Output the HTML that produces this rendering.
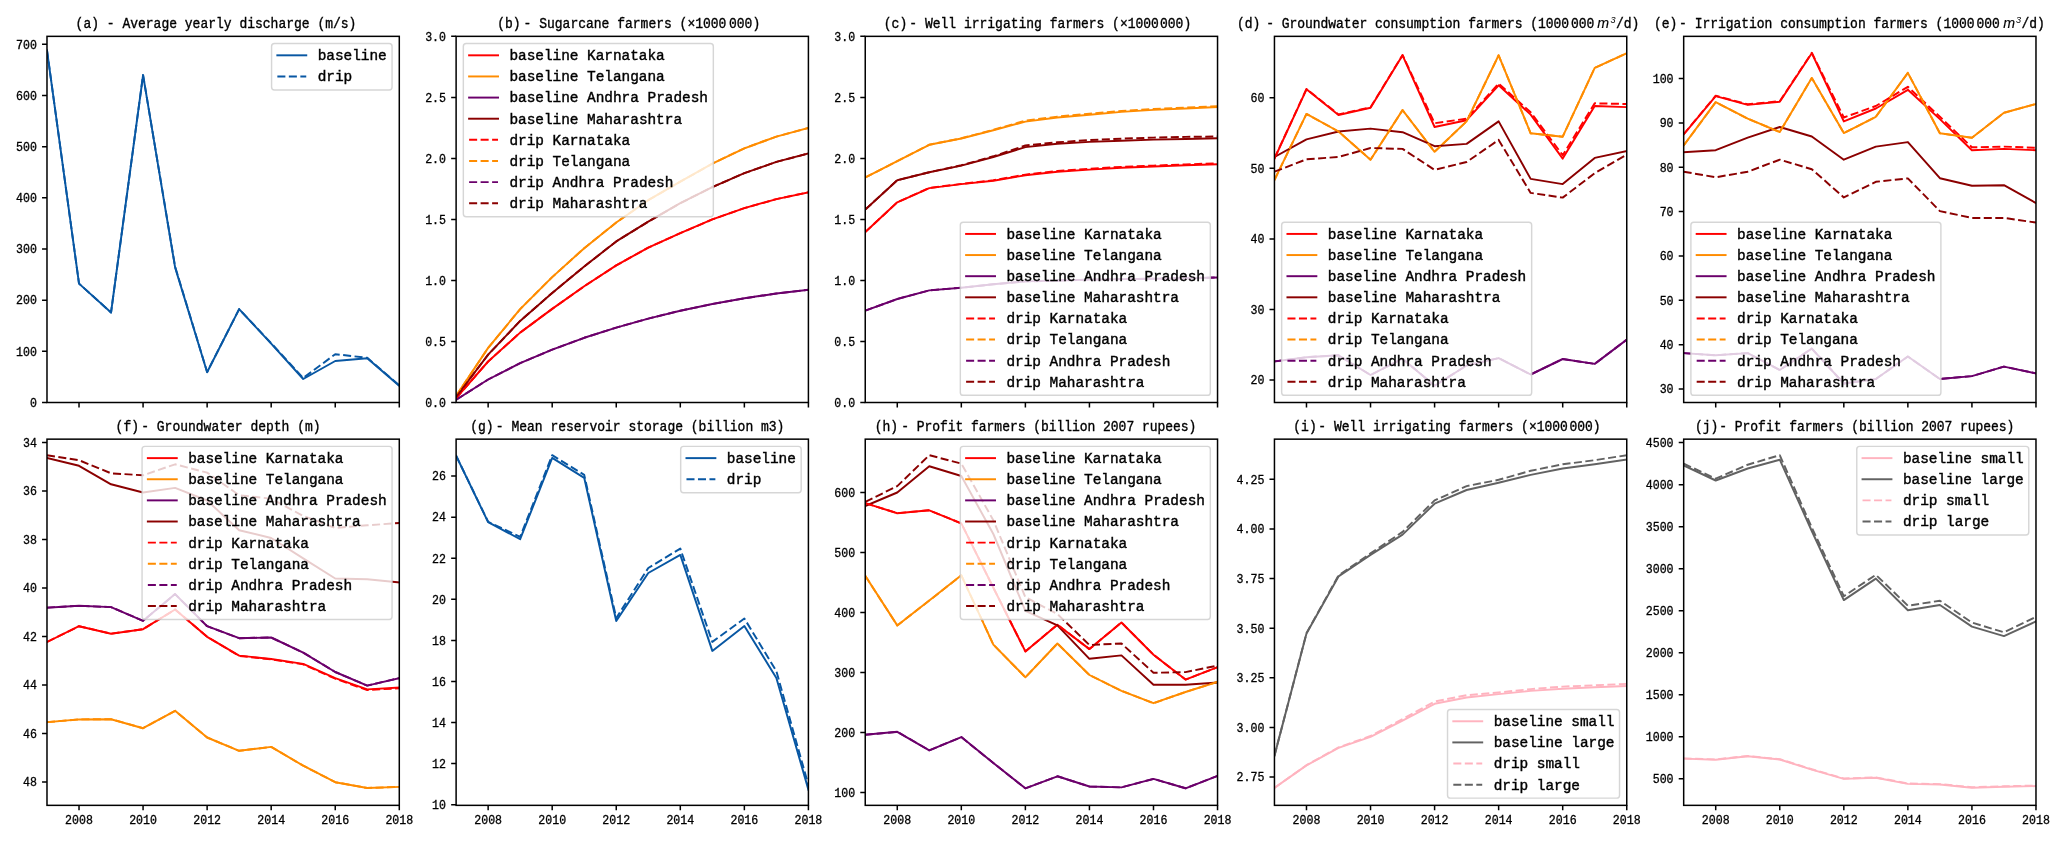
<!DOCTYPE html>
<html><head><meta charset="utf-8"><title>figure</title>
<style>html,body{margin:0;padding:0;background:#fff;}body{width:2067px;height:842px;overflow:hidden;}svg{display:block;will-change:transform;}text{white-space:pre;}</style></head>
<body>
<svg width="2067" height="842" viewBox="0 0 2067 842">
<rect width="2067" height="842" fill="#fff"/>
<defs>
<clipPath id="ca"><rect x="46.99" y="36.35" width="352.3" height="366.15"/></clipPath>
<clipPath id="cb"><rect x="456.11" y="36.35" width="352.3" height="366.15"/></clipPath>
<clipPath id="cc"><rect x="865.24" y="36.35" width="352.3" height="366.15"/></clipPath>
<clipPath id="cd"><rect x="1274.45" y="36.35" width="352.3" height="366.15"/></clipPath>
<clipPath id="ce"><rect x="1683.68" y="36.35" width="352.3" height="366.15"/></clipPath>
<clipPath id="cf"><rect x="46.99" y="439.15" width="352.3" height="366.2"/></clipPath>
<clipPath id="cg"><rect x="456.11" y="439.15" width="352.3" height="366.2"/></clipPath>
<clipPath id="ch"><rect x="865.24" y="439.15" width="352.3" height="366.2"/></clipPath>
<clipPath id="ci"><rect x="1274.45" y="439.15" width="352.3" height="366.2"/></clipPath>
<clipPath id="cj"><rect x="1683.68" y="439.15" width="352.3" height="366.2"/></clipPath>
</defs>
<g id="pa">
<g clip-path="url(#ca)" fill="none" stroke-width="1.95" stroke-linejoin="round">
<polyline points="46.99,50.3 79.02,283.6 111.04,312.5 143.07,75.1 175.1,267.4 207.13,372.3 239.15,309.1 271.18,343.6 303.21,379 335.24,361 367.26,358.3 399.29,385.8" stroke="#0857a3" stroke-linecap="square"/>
<polyline points="46.99,50.3 79.02,283.6 111.04,312.5 143.07,75.1 175.1,266.6 207.13,372 239.15,309.1 271.18,343.2 303.21,378 335.24,354.2 367.26,357.8 399.29,385.4" stroke="#0857a3" stroke-dasharray="8.03 3.47"/>
</g>
<path d="M79.02 402.5v4.95M143.07 402.5v4.95M207.13 402.5v4.95M271.18 402.5v4.95M335.24 402.5v4.95M399.29 402.5v4.95M46.99 402.5h-4.95M46.99 351.34h-4.95M46.99 300.18h-4.95M46.99 249.02h-4.95M46.99 197.86h-4.95M46.99 146.69h-4.95M46.99 95.53h-4.95M46.99 44.37h-4.95" stroke="#000" stroke-width="1.5" fill="none"/>
<rect x="46.99" y="36.35" width="352.3" height="366.15" fill="none" stroke="#000" stroke-width="1.5"/>
<g font-family='"Liberation Mono", monospace' font-size="11.6" fill="#000">
<text transform="translate(36.89,406.8) scale(1,1.05)" text-anchor="end" stroke="#000" stroke-width="0.28">0</text>
<text transform="translate(36.89,355.64) scale(1,1.05)" text-anchor="end" stroke="#000" stroke-width="0.28">100</text>
<text transform="translate(36.89,304.48) scale(1,1.05)" text-anchor="end" stroke="#000" stroke-width="0.28">200</text>
<text transform="translate(36.89,253.32) scale(1,1.05)" text-anchor="end" stroke="#000" stroke-width="0.28">300</text>
<text transform="translate(36.89,202.16) scale(1,1.05)" text-anchor="end" stroke="#000" stroke-width="0.28">400</text>
<text transform="translate(36.89,151) scale(1,1.05)" text-anchor="end" stroke="#000" stroke-width="0.28">500</text>
<text transform="translate(36.89,99.83) scale(1,1.05)" text-anchor="end" stroke="#000" stroke-width="0.28">600</text>
<text transform="translate(36.89,48.67) scale(1,1.05)" text-anchor="end" stroke="#000" stroke-width="0.28">700</text>
</g>
<g font-family='"Liberation Mono", monospace' font-size="13.0" fill="#000">
<text transform="translate(75.6,28) scale(1,1.07)" textLength="280.8" lengthAdjust="spacing" stroke="#000" stroke-width="0.33">(a) - Average yearly discharge (m/s)</text>
</g>
<rect x="271.57" y="43.57" width="120.5" height="46.4" rx="2.9" fill="#fff" fill-opacity="0.8" stroke="#ccc" stroke-opacity="0.8" stroke-width="1.44"/>
<g font-family='"Liberation Mono", monospace' font-size="14.44" fill="#000">
<path d="M277.35 55.32H306.25" stroke="#0857a3" stroke-width="1.95" stroke-linecap="square" fill="none"/>
<text transform="translate(317.7,60.22) scale(1,1.04)" textLength="69.04" lengthAdjust="spacing" stroke="#000" stroke-width="0.4">baseline</text>
<path d="M277.35 76.45H306.25" stroke="#0857a3" stroke-width="1.95" stroke-dasharray="8.03 3.47" fill="none"/>
<text transform="translate(317.7,81.35) scale(1,1.04)" textLength="34.52" lengthAdjust="spacing" stroke="#000" stroke-width="0.4">drip</text>
</g>
</g>
<g id="pb">
<g clip-path="url(#cb)" fill="none" stroke-width="1.95" stroke-linejoin="round">
<polyline points="456.11,398.2 488.14,361.5 520.16,332.6 552.19,308.9 584.22,286.3 616.25,265.4 648.27,247.6 680.3,233.2 712.33,219.4 744.36,208.1 776.38,199.1 808.41,192.3" stroke="#ff0000" stroke-linecap="square"/>
<polyline points="456.11,395.8 488.14,347.9 520.16,309.1 552.19,277.1 584.22,248.2 616.25,222.5 648.27,200.2 680.3,181.7 712.33,163.7 744.36,148.3 776.38,136.6 808.41,128" stroke="#ff8c00" stroke-linecap="square"/>
<polyline points="456.11,399.8 488.14,379.5 520.16,363.1 552.19,349.7 584.22,337.8 616.25,327.6 648.27,318.6 680.3,310.7 712.33,304 744.36,298.3 776.38,293.5 808.41,289.8" stroke="#6b006b" stroke-linecap="square"/>
<polyline points="456.11,396.9 488.14,354.7 520.16,320.9 552.19,292.9 584.22,266.5 616.25,241.4 648.27,221.7 680.3,203.2 712.33,187.1 744.36,173.2 776.38,161.9 808.41,153.5" stroke="#8b0000" stroke-linecap="square"/>
<polyline points="456.11,398.2 488.14,361.5 520.16,332.6 552.19,308.9 584.22,286.3 616.25,265.4 648.27,247.6 680.3,233.2 712.33,219.4 744.36,208.1 776.38,199.1 808.41,192.3" stroke="#ff0000" stroke-dasharray="8.03 3.47"/>
<polyline points="456.11,395.8 488.14,347.9 520.16,309.1 552.19,277.1 584.22,248.2 616.25,222.5 648.27,200.2 680.3,181.7 712.33,163.7 744.36,148.3 776.38,136.6 808.41,128" stroke="#ff8c00" stroke-dasharray="8.03 3.47"/>
<polyline points="456.11,399.8 488.14,379.5 520.16,363.1 552.19,349.7 584.22,337.8 616.25,327.6 648.27,318.6 680.3,310.7 712.33,304 744.36,298.3 776.38,293.5 808.41,289.8" stroke="#6b006b" stroke-dasharray="8.03 3.47"/>
<polyline points="456.11,396.9 488.14,354.7 520.16,320.9 552.19,292.9 584.22,266.5 616.25,241.4 648.27,221.7 680.3,203.2 712.33,187.1 744.36,173.2 776.38,161.9 808.41,153.5" stroke="#8b0000" stroke-dasharray="8.03 3.47"/>
</g>
<path d="M488.14 402.5v4.95M552.19 402.5v4.95M616.25 402.5v4.95M680.3 402.5v4.95M744.36 402.5v4.95M808.41 402.5v4.95M456.11 402.5h-4.95M456.11 341.48h-4.95M456.11 280.45h-4.95M456.11 219.43h-4.95M456.11 158.4h-4.95M456.11 97.38h-4.95M456.11 36.35h-4.95" stroke="#000" stroke-width="1.5" fill="none"/>
<rect x="456.11" y="36.35" width="352.3" height="366.15" fill="none" stroke="#000" stroke-width="1.5"/>
<g font-family='"Liberation Mono", monospace' font-size="11.6" fill="#000">
<text transform="translate(446.01,406.8) scale(1,1.05)" text-anchor="end" stroke="#000" stroke-width="0.28">0.0</text>
<text transform="translate(446.01,345.78) scale(1,1.05)" text-anchor="end" stroke="#000" stroke-width="0.28">0.5</text>
<text transform="translate(446.01,284.75) scale(1,1.05)" text-anchor="end" stroke="#000" stroke-width="0.28">1.0</text>
<text transform="translate(446.01,223.73) scale(1,1.05)" text-anchor="end" stroke="#000" stroke-width="0.28">1.5</text>
<text transform="translate(446.01,162.7) scale(1,1.05)" text-anchor="end" stroke="#000" stroke-width="0.28">2.0</text>
<text transform="translate(446.01,101.67) scale(1,1.05)" text-anchor="end" stroke="#000" stroke-width="0.28">2.5</text>
<text transform="translate(446.01,40.65) scale(1,1.05)" text-anchor="end" stroke="#000" stroke-width="0.28">3.0</text>
</g>
<g font-family='"Liberation Mono", monospace' font-size="13.0" fill="#000">
<text transform="translate(497.2,28) scale(1,1.07)" textLength="23.4" lengthAdjust="spacing" stroke="#000" stroke-width="0.33">(b)</text>
<text transform="translate(523.6,28) scale(1,1.07)" textLength="202.8" lengthAdjust="spacing" stroke="#000" stroke-width="0.33">- Sugarcane farmers (×1000</text>
<text transform="translate(729,28) scale(1,1.07)" textLength="31.2" lengthAdjust="spacing" stroke="#000" stroke-width="0.33">000)</text>
</g>
<rect x="463.33" y="43.57" width="250" height="173.1" rx="2.9" fill="#fff" fill-opacity="0.8" stroke="#ccc" stroke-opacity="0.8" stroke-width="1.44"/>
<g font-family='"Liberation Mono", monospace' font-size="14.44" fill="#000">
<path d="M469.11 55.32H498.01" stroke="#ff0000" stroke-width="1.95" stroke-linecap="square" fill="none"/>
<text transform="translate(509.46,60.22) scale(1,1.04)" textLength="155.34" lengthAdjust="spacing" stroke="#000" stroke-width="0.4">baseline Karnataka</text>
<path d="M469.11 76.45H498.01" stroke="#ff8c00" stroke-width="1.95" stroke-linecap="square" fill="none"/>
<text transform="translate(509.46,81.35) scale(1,1.04)" textLength="155.34" lengthAdjust="spacing" stroke="#000" stroke-width="0.4">baseline Telangana</text>
<path d="M469.11 97.58H498.01" stroke="#6b006b" stroke-width="1.95" stroke-linecap="square" fill="none"/>
<text transform="translate(509.46,102.48) scale(1,1.04)" textLength="198.49" lengthAdjust="spacing" stroke="#000" stroke-width="0.4">baseline Andhra Pradesh</text>
<path d="M469.11 118.71H498.01" stroke="#8b0000" stroke-width="1.95" stroke-linecap="square" fill="none"/>
<text transform="translate(509.46,123.61) scale(1,1.04)" textLength="172.6" lengthAdjust="spacing" stroke="#000" stroke-width="0.4">baseline Maharashtra</text>
<path d="M469.11 139.84H498.01" stroke="#ff0000" stroke-width="1.95" stroke-dasharray="8.03 3.47" fill="none"/>
<text transform="translate(509.46,144.74) scale(1,1.04)" textLength="120.82" lengthAdjust="spacing" stroke="#000" stroke-width="0.4">drip Karnataka</text>
<path d="M469.11 160.97H498.01" stroke="#ff8c00" stroke-width="1.95" stroke-dasharray="8.03 3.47" fill="none"/>
<text transform="translate(509.46,165.87) scale(1,1.04)" textLength="120.82" lengthAdjust="spacing" stroke="#000" stroke-width="0.4">drip Telangana</text>
<path d="M469.11 182.1H498.01" stroke="#6b006b" stroke-width="1.95" stroke-dasharray="8.03 3.47" fill="none"/>
<text transform="translate(509.46,187) scale(1,1.04)" textLength="163.97" lengthAdjust="spacing" stroke="#000" stroke-width="0.4">drip Andhra Pradesh</text>
<path d="M469.11 203.23H498.01" stroke="#8b0000" stroke-width="1.95" stroke-dasharray="8.03 3.47" fill="none"/>
<text transform="translate(509.46,208.13) scale(1,1.04)" textLength="138.08" lengthAdjust="spacing" stroke="#000" stroke-width="0.4">drip Maharashtra</text>
</g>
</g>
<g id="pc">
<g clip-path="url(#cc)" fill="none" stroke-width="1.95" stroke-linejoin="round">
<polyline points="865.24,232.1 897.27,202.3 929.29,188.1 961.32,184.1 993.35,180.7 1025.38,175.3 1057.4,171.7 1089.43,169.6 1121.46,167.8 1153.49,166.5 1185.51,165.3 1217.54,164.2" stroke="#ff0000" stroke-linecap="square"/>
<polyline points="865.24,177.5 897.27,161.1 929.29,144.8 961.32,138.5 993.35,130.2 1025.38,121.6 1057.4,117.5 1089.43,114.8 1121.46,111.9 1153.49,109.9 1185.51,108.5 1217.54,107.1" stroke="#ff8c00" stroke-linecap="square"/>
<polyline points="865.24,310.7 897.27,299 929.29,290.4 961.32,287.7 993.35,284.3 1025.38,281.4 1057.4,280.5 1089.43,279.6 1121.46,279.1 1153.49,278.7 1185.51,278.2 1217.54,277.5" stroke="#6b006b" stroke-linecap="square"/>
<polyline points="865.24,209.6 897.27,180.2 929.29,172.3 961.32,165.6 993.35,157 1025.38,147.1 1057.4,143.7 1089.43,141.9 1121.46,140.8 1153.49,139.6 1185.51,139 1217.54,138.3" stroke="#8b0000" stroke-linecap="square"/>
<polyline points="865.24,232.1 897.27,202.3 929.29,188 961.32,183.9 993.35,180.3 1025.38,174.6 1057.4,171 1089.43,168.7 1121.46,166.9 1153.49,165.6 1185.51,164.4 1217.54,163.3" stroke="#ff0000" stroke-dasharray="8.03 3.47"/>
<polyline points="865.24,177.5 897.27,161.1 929.29,144.7 961.32,138.3 993.35,129.8 1025.38,120.7 1057.4,116.6 1089.43,113.7 1121.46,111 1153.49,108.9 1185.51,107.6 1217.54,106.2" stroke="#ff8c00" stroke-dasharray="8.03 3.47"/>
<polyline points="865.24,310.7 897.27,299 929.29,290.4 961.32,287.7 993.35,284.3 1025.38,281.4 1057.4,280.5 1089.43,279.6 1121.46,279.1 1153.49,278.7 1185.51,278.2 1217.54,277.5" stroke="#6b006b" stroke-dasharray="8.03 3.47"/>
<polyline points="865.24,209.6 897.27,180.2 929.29,172.2 961.32,165.3 993.35,156.3 1025.38,145.5 1057.4,142.3 1089.43,140.1 1121.46,138.7 1153.49,137.6 1185.51,136.9 1217.54,136.5" stroke="#8b0000" stroke-dasharray="8.03 3.47"/>
</g>
<path d="M897.27 402.5v4.95M961.32 402.5v4.95M1025.38 402.5v4.95M1089.43 402.5v4.95M1153.49 402.5v4.95M1217.54 402.5v4.95M865.24 402.5h-4.95M865.24 341.48h-4.95M865.24 280.45h-4.95M865.24 219.43h-4.95M865.24 158.4h-4.95M865.24 97.38h-4.95M865.24 36.35h-4.95" stroke="#000" stroke-width="1.5" fill="none"/>
<rect x="865.24" y="36.35" width="352.3" height="366.15" fill="none" stroke="#000" stroke-width="1.5"/>
<g font-family='"Liberation Mono", monospace' font-size="11.6" fill="#000">
<text transform="translate(855.14,406.8) scale(1,1.05)" text-anchor="end" stroke="#000" stroke-width="0.28">0.0</text>
<text transform="translate(855.14,345.78) scale(1,1.05)" text-anchor="end" stroke="#000" stroke-width="0.28">0.5</text>
<text transform="translate(855.14,284.75) scale(1,1.05)" text-anchor="end" stroke="#000" stroke-width="0.28">1.0</text>
<text transform="translate(855.14,223.73) scale(1,1.05)" text-anchor="end" stroke="#000" stroke-width="0.28">1.5</text>
<text transform="translate(855.14,162.7) scale(1,1.05)" text-anchor="end" stroke="#000" stroke-width="0.28">2.0</text>
<text transform="translate(855.14,101.67) scale(1,1.05)" text-anchor="end" stroke="#000" stroke-width="0.28">2.5</text>
<text transform="translate(855.14,40.65) scale(1,1.05)" text-anchor="end" stroke="#000" stroke-width="0.28">3.0</text>
</g>
<g font-family='"Liberation Mono", monospace' font-size="13.0" fill="#000">
<text transform="translate(883.8,28) scale(1,1.07)" textLength="23.4" lengthAdjust="spacing" stroke="#000" stroke-width="0.33">(c)</text>
<text transform="translate(909.3,28) scale(1,1.07)" textLength="249.6" lengthAdjust="spacing" stroke="#000" stroke-width="0.33">- Well irrigating farmers (×1000</text>
<text transform="translate(1160,28) scale(1,1.07)" textLength="31.2" lengthAdjust="spacing" stroke="#000" stroke-width="0.33">000)</text>
</g>
<rect x="960.32" y="222.18" width="250" height="173.1" rx="2.9" fill="#fff" fill-opacity="0.8" stroke="#ccc" stroke-opacity="0.8" stroke-width="1.44"/>
<g font-family='"Liberation Mono", monospace' font-size="14.44" fill="#000">
<path d="M966.1 233.93H995" stroke="#ff0000" stroke-width="1.95" stroke-linecap="square" fill="none"/>
<text transform="translate(1006.45,238.83) scale(1,1.04)" textLength="155.34" lengthAdjust="spacing" stroke="#000" stroke-width="0.4">baseline Karnataka</text>
<path d="M966.1 255.06H995" stroke="#ff8c00" stroke-width="1.95" stroke-linecap="square" fill="none"/>
<text transform="translate(1006.45,259.96) scale(1,1.04)" textLength="155.34" lengthAdjust="spacing" stroke="#000" stroke-width="0.4">baseline Telangana</text>
<path d="M966.1 276.19H995" stroke="#6b006b" stroke-width="1.95" stroke-linecap="square" fill="none"/>
<text transform="translate(1006.45,281.09) scale(1,1.04)" textLength="198.49" lengthAdjust="spacing" stroke="#000" stroke-width="0.4">baseline Andhra Pradesh</text>
<path d="M966.1 297.32H995" stroke="#8b0000" stroke-width="1.95" stroke-linecap="square" fill="none"/>
<text transform="translate(1006.45,302.22) scale(1,1.04)" textLength="172.6" lengthAdjust="spacing" stroke="#000" stroke-width="0.4">baseline Maharashtra</text>
<path d="M966.1 318.45H995" stroke="#ff0000" stroke-width="1.95" stroke-dasharray="8.03 3.47" fill="none"/>
<text transform="translate(1006.45,323.35) scale(1,1.04)" textLength="120.82" lengthAdjust="spacing" stroke="#000" stroke-width="0.4">drip Karnataka</text>
<path d="M966.1 339.58H995" stroke="#ff8c00" stroke-width="1.95" stroke-dasharray="8.03 3.47" fill="none"/>
<text transform="translate(1006.45,344.48) scale(1,1.04)" textLength="120.82" lengthAdjust="spacing" stroke="#000" stroke-width="0.4">drip Telangana</text>
<path d="M966.1 360.71H995" stroke="#6b006b" stroke-width="1.95" stroke-dasharray="8.03 3.47" fill="none"/>
<text transform="translate(1006.45,365.61) scale(1,1.04)" textLength="163.97" lengthAdjust="spacing" stroke="#000" stroke-width="0.4">drip Andhra Pradesh</text>
<path d="M966.1 381.84H995" stroke="#8b0000" stroke-width="1.95" stroke-dasharray="8.03 3.47" fill="none"/>
<text transform="translate(1006.45,386.74) scale(1,1.04)" textLength="138.08" lengthAdjust="spacing" stroke="#000" stroke-width="0.4">drip Maharashtra</text>
</g>
</g>
<g id="pd">
<g clip-path="url(#cd)" fill="none" stroke-width="1.95" stroke-linejoin="round">
<polyline points="1274.45,158.6 1306.48,89.3 1338.5,115 1370.53,107.8 1402.56,55.3 1434.59,127 1466.61,120.2 1498.64,85.3 1530.67,114.6 1562.7,158.6 1594.72,106 1626.75,107.1" stroke="#ff0000" stroke-linecap="square"/>
<polyline points="1274.45,180 1306.48,113.9 1338.5,131.5 1370.53,159.7 1402.56,110.1 1434.59,151.8 1466.61,121.4 1498.64,55.3 1530.67,133.3 1562.7,136.7 1594.72,67.9 1626.75,53.2" stroke="#ff8c00" stroke-linecap="square"/>
<polyline points="1274.45,361.4 1306.48,357.2 1338.5,355.3 1370.53,375 1402.56,358.7 1434.59,385.8 1466.61,365.5 1498.64,358.1 1530.67,374.5 1562.7,359 1594.72,363.9 1626.75,339.6" stroke="#6b006b" stroke-linecap="square"/>
<polyline points="1274.45,157 1306.48,139.4 1338.5,131.5 1370.53,128.6 1402.56,132.2 1434.59,146.2 1466.61,143.9 1498.64,121.4 1530.67,178.9 1562.7,184.1 1594.72,157.9 1626.75,151.1" stroke="#8b0000" stroke-linecap="square"/>
<polyline points="1274.45,158.4 1306.48,89 1338.5,114.4 1370.53,107.3 1402.56,55 1434.59,123.2 1466.61,118.7 1498.64,83.5 1530.67,112.3 1562.7,155.2 1594.72,103.3 1626.75,104" stroke="#ff0000" stroke-dasharray="8.03 3.47"/>
<polyline points="1274.45,180 1306.48,113.9 1338.5,131.5 1370.53,159.7 1402.56,110.1 1434.59,151.8 1466.61,121.4 1498.64,55.3 1530.67,133.3 1562.7,136.7 1594.72,67.9 1626.75,53.2" stroke="#ff8c00" stroke-dasharray="8.03 3.47"/>
<polyline points="1274.45,361.4 1306.48,357.2 1338.5,355.3 1370.53,375 1402.56,358.7 1434.59,385.8 1466.61,365.5 1498.64,358.1 1530.67,374.5 1562.7,359 1594.72,363.9 1626.75,339.6" stroke="#6b006b" stroke-dasharray="8.03 3.47"/>
<polyline points="1274.45,171.7 1306.48,159.3 1338.5,157 1370.53,148 1402.56,148.9 1434.59,169.9 1466.61,162 1498.64,139.9 1530.67,192.9 1562.7,197.6 1594.72,173.2 1626.75,154.7" stroke="#8b0000" stroke-dasharray="8.03 3.47"/>
</g>
<path d="M1306.48 402.5v4.95M1370.53 402.5v4.95M1434.59 402.5v4.95M1498.64 402.5v4.95M1562.7 402.5v4.95M1626.75 402.5v4.95M1274.45 380.1h-4.95M1274.45 309.5h-4.95M1274.45 238.9h-4.95M1274.45 168.3h-4.95M1274.45 97.7h-4.95" stroke="#000" stroke-width="1.5" fill="none"/>
<rect x="1274.45" y="36.35" width="352.3" height="366.15" fill="none" stroke="#000" stroke-width="1.5"/>
<g font-family='"Liberation Mono", monospace' font-size="11.6" fill="#000">
<text transform="translate(1264.35,384.4) scale(1,1.05)" text-anchor="end" stroke="#000" stroke-width="0.28">20</text>
<text transform="translate(1264.35,313.8) scale(1,1.05)" text-anchor="end" stroke="#000" stroke-width="0.28">30</text>
<text transform="translate(1264.35,243.2) scale(1,1.05)" text-anchor="end" stroke="#000" stroke-width="0.28">40</text>
<text transform="translate(1264.35,172.6) scale(1,1.05)" text-anchor="end" stroke="#000" stroke-width="0.28">50</text>
<text transform="translate(1264.35,102) scale(1,1.05)" text-anchor="end" stroke="#000" stroke-width="0.28">60</text>
</g>
<g font-family='"Liberation Mono", monospace' font-size="13.0" fill="#000">
<text transform="translate(1237,28) scale(1,1.07)" textLength="23.4" lengthAdjust="spacing" stroke="#000" stroke-width="0.33">(d)</text>
<text transform="translate(1266.2,28) scale(1,1.07)" textLength="302.95" lengthAdjust="spacing" stroke="#000" stroke-width="0.33">- Groundwater consumption farmers (1000</text>
<text transform="translate(1570.9,28) scale(1,1.07)" textLength="23.4" lengthAdjust="spacing" stroke="#000" stroke-width="0.33">000</text>
<text x="1597.3" y="28" font-family='"Liberation Sans", sans-serif' font-style="italic" font-size="14.2" stroke="#000" stroke-width="0.15">m</text>
<text x="1610.5" y="23.2" font-family='"Liberation Sans", sans-serif' font-style="italic" font-size="9.1">3</text>
<text transform="translate(1616,28) scale(1,1.07)" textLength="23.25" lengthAdjust="spacing" stroke="#000" stroke-width="0.33">/d)</text>
</g>
<rect x="1281.67" y="222.18" width="250" height="173.1" rx="2.9" fill="#fff" fill-opacity="0.8" stroke="#ccc" stroke-opacity="0.8" stroke-width="1.44"/>
<g font-family='"Liberation Mono", monospace' font-size="14.44" fill="#000">
<path d="M1287.45 233.93H1316.35" stroke="#ff0000" stroke-width="1.95" stroke-linecap="square" fill="none"/>
<text transform="translate(1327.8,238.83) scale(1,1.04)" textLength="155.34" lengthAdjust="spacing" stroke="#000" stroke-width="0.4">baseline Karnataka</text>
<path d="M1287.45 255.06H1316.35" stroke="#ff8c00" stroke-width="1.95" stroke-linecap="square" fill="none"/>
<text transform="translate(1327.8,259.96) scale(1,1.04)" textLength="155.34" lengthAdjust="spacing" stroke="#000" stroke-width="0.4">baseline Telangana</text>
<path d="M1287.45 276.19H1316.35" stroke="#6b006b" stroke-width="1.95" stroke-linecap="square" fill="none"/>
<text transform="translate(1327.8,281.09) scale(1,1.04)" textLength="198.49" lengthAdjust="spacing" stroke="#000" stroke-width="0.4">baseline Andhra Pradesh</text>
<path d="M1287.45 297.32H1316.35" stroke="#8b0000" stroke-width="1.95" stroke-linecap="square" fill="none"/>
<text transform="translate(1327.8,302.22) scale(1,1.04)" textLength="172.6" lengthAdjust="spacing" stroke="#000" stroke-width="0.4">baseline Maharashtra</text>
<path d="M1287.45 318.45H1316.35" stroke="#ff0000" stroke-width="1.95" stroke-dasharray="8.03 3.47" fill="none"/>
<text transform="translate(1327.8,323.35) scale(1,1.04)" textLength="120.82" lengthAdjust="spacing" stroke="#000" stroke-width="0.4">drip Karnataka</text>
<path d="M1287.45 339.58H1316.35" stroke="#ff8c00" stroke-width="1.95" stroke-dasharray="8.03 3.47" fill="none"/>
<text transform="translate(1327.8,344.48) scale(1,1.04)" textLength="120.82" lengthAdjust="spacing" stroke="#000" stroke-width="0.4">drip Telangana</text>
<path d="M1287.45 360.71H1316.35" stroke="#6b006b" stroke-width="1.95" stroke-dasharray="8.03 3.47" fill="none"/>
<text transform="translate(1327.8,365.61) scale(1,1.04)" textLength="163.97" lengthAdjust="spacing" stroke="#000" stroke-width="0.4">drip Andhra Pradesh</text>
<path d="M1287.45 381.84H1316.35" stroke="#8b0000" stroke-width="1.95" stroke-dasharray="8.03 3.47" fill="none"/>
<text transform="translate(1327.8,386.74) scale(1,1.04)" textLength="138.08" lengthAdjust="spacing" stroke="#000" stroke-width="0.4">drip Maharashtra</text>
</g>
</g>
<g id="pe">
<g clip-path="url(#ce)" fill="none" stroke-width="1.95" stroke-linejoin="round">
<polyline points="1683.68,134.4 1715.71,96.1 1747.73,104.9 1779.76,101.7 1811.79,53.2 1843.82,121.4 1875.84,108.5 1907.87,89.8 1939.9,119.1 1971.93,150.2 2003.95,148.9 2035.98,150.2" stroke="#ff0000" stroke-linecap="square"/>
<polyline points="1683.68,145.5 1715.71,102.2 1747.73,118.7 1779.76,132 1811.79,78 1843.82,133.1 1875.84,116.8 1907.87,72.9 1939.9,133.3 1971.93,137.8 2003.95,112.8 2035.98,104" stroke="#ff8c00" stroke-linecap="square"/>
<polyline points="1683.68,353.1 1715.71,355.3 1747.73,353.1 1779.76,370 1811.79,348.6 1843.82,383.5 1875.84,379 1907.87,356.5 1939.9,379 1971.93,376.1 2003.95,366.6 2035.98,373.4" stroke="#6b006b" stroke-linecap="square"/>
<polyline points="1683.68,152.3 1715.71,150.2 1747.73,137.6 1779.76,127 1811.79,136.5 1843.82,159.7 1875.84,146.6 1907.87,142.1 1939.9,178.2 1971.93,185.7 2003.95,185.2 2035.98,203" stroke="#8b0000" stroke-linecap="square"/>
<polyline points="1683.68,134.2 1715.71,95.7 1747.73,104.3 1779.76,101.2 1811.79,52.8 1843.82,117.5 1875.84,106 1907.87,86.8 1939.9,116.8 1971.93,147.3 2003.95,146.6 2035.98,147.8" stroke="#ff0000" stroke-dasharray="8.03 3.47"/>
<polyline points="1683.68,145.5 1715.71,102.2 1747.73,118.7 1779.76,132 1811.79,78 1843.82,133.1 1875.84,116.8 1907.87,72.9 1939.9,133.3 1971.93,137.8 2003.95,112.8 2035.98,104" stroke="#ff8c00" stroke-dasharray="8.03 3.47"/>
<polyline points="1683.68,353.1 1715.71,355.3 1747.73,353.1 1779.76,370 1811.79,348.6 1843.82,383.5 1875.84,379 1907.87,356.5 1939.9,379 1971.93,376.1 2003.95,366.6 2035.98,373.4" stroke="#6b006b" stroke-dasharray="8.03 3.47"/>
<polyline points="1683.68,171.7 1715.71,177.3 1747.73,171.7 1779.76,159.7 1811.79,169.2 1843.82,197.4 1875.84,181.8 1907.87,178.4 1939.9,211.1 1971.93,217.9 2003.95,217.9 2035.98,222.6" stroke="#8b0000" stroke-dasharray="8.03 3.47"/>
</g>
<path d="M1715.71 402.5v4.95M1779.76 402.5v4.95M1843.82 402.5v4.95M1907.87 402.5v4.95M1971.93 402.5v4.95M2035.98 402.5v4.95M1683.68 389h-4.95M1683.68 344.65h-4.95M1683.68 300.3h-4.95M1683.68 255.95h-4.95M1683.68 211.6h-4.95M1683.68 167.25h-4.95M1683.68 122.9h-4.95M1683.68 78.55h-4.95" stroke="#000" stroke-width="1.5" fill="none"/>
<rect x="1683.68" y="36.35" width="352.3" height="366.15" fill="none" stroke="#000" stroke-width="1.5"/>
<g font-family='"Liberation Mono", monospace' font-size="11.6" fill="#000">
<text transform="translate(1673.58,393.3) scale(1,1.05)" text-anchor="end" stroke="#000" stroke-width="0.28">30</text>
<text transform="translate(1673.58,348.95) scale(1,1.05)" text-anchor="end" stroke="#000" stroke-width="0.28">40</text>
<text transform="translate(1673.58,304.6) scale(1,1.05)" text-anchor="end" stroke="#000" stroke-width="0.28">50</text>
<text transform="translate(1673.58,260.25) scale(1,1.05)" text-anchor="end" stroke="#000" stroke-width="0.28">60</text>
<text transform="translate(1673.58,215.9) scale(1,1.05)" text-anchor="end" stroke="#000" stroke-width="0.28">70</text>
<text transform="translate(1673.58,171.55) scale(1,1.05)" text-anchor="end" stroke="#000" stroke-width="0.28">80</text>
<text transform="translate(1673.58,127.2) scale(1,1.05)" text-anchor="end" stroke="#000" stroke-width="0.28">90</text>
<text transform="translate(1673.58,82.85) scale(1,1.05)" text-anchor="end" stroke="#000" stroke-width="0.28">100</text>
</g>
<g font-family='"Liberation Mono", monospace' font-size="13.0" fill="#000">
<text transform="translate(1654,28) scale(1,1.07)" textLength="23.4" lengthAdjust="spacing" stroke="#000" stroke-width="0.33">(e)</text>
<text transform="translate(1679.1,28) scale(1,1.07)" textLength="295.41" lengthAdjust="spacing" stroke="#000" stroke-width="0.33">- Irrigation consumption farmers (1000</text>
<text transform="translate(1976.5,28) scale(1,1.07)" textLength="23.4" lengthAdjust="spacing" stroke="#000" stroke-width="0.33">000</text>
<text x="2003.2" y="28" font-family='"Liberation Sans", sans-serif' font-style="italic" font-size="14.2" stroke="#000" stroke-width="0.15">m</text>
<text x="2016.1" y="23.2" font-family='"Liberation Sans", sans-serif' font-style="italic" font-size="9.1">3</text>
<text transform="translate(2021.6,28) scale(1,1.07)" textLength="23.25" lengthAdjust="spacing" stroke="#000" stroke-width="0.33">/d)</text>
</g>
<rect x="1690.9" y="222.18" width="250" height="173.1" rx="2.9" fill="#fff" fill-opacity="0.8" stroke="#ccc" stroke-opacity="0.8" stroke-width="1.44"/>
<g font-family='"Liberation Mono", monospace' font-size="14.44" fill="#000">
<path d="M1696.68 233.93H1725.58" stroke="#ff0000" stroke-width="1.95" stroke-linecap="square" fill="none"/>
<text transform="translate(1737.03,238.83) scale(1,1.04)" textLength="155.34" lengthAdjust="spacing" stroke="#000" stroke-width="0.4">baseline Karnataka</text>
<path d="M1696.68 255.06H1725.58" stroke="#ff8c00" stroke-width="1.95" stroke-linecap="square" fill="none"/>
<text transform="translate(1737.03,259.96) scale(1,1.04)" textLength="155.34" lengthAdjust="spacing" stroke="#000" stroke-width="0.4">baseline Telangana</text>
<path d="M1696.68 276.19H1725.58" stroke="#6b006b" stroke-width="1.95" stroke-linecap="square" fill="none"/>
<text transform="translate(1737.03,281.09) scale(1,1.04)" textLength="198.49" lengthAdjust="spacing" stroke="#000" stroke-width="0.4">baseline Andhra Pradesh</text>
<path d="M1696.68 297.32H1725.58" stroke="#8b0000" stroke-width="1.95" stroke-linecap="square" fill="none"/>
<text transform="translate(1737.03,302.22) scale(1,1.04)" textLength="172.6" lengthAdjust="spacing" stroke="#000" stroke-width="0.4">baseline Maharashtra</text>
<path d="M1696.68 318.45H1725.58" stroke="#ff0000" stroke-width="1.95" stroke-dasharray="8.03 3.47" fill="none"/>
<text transform="translate(1737.03,323.35) scale(1,1.04)" textLength="120.82" lengthAdjust="spacing" stroke="#000" stroke-width="0.4">drip Karnataka</text>
<path d="M1696.68 339.58H1725.58" stroke="#ff8c00" stroke-width="1.95" stroke-dasharray="8.03 3.47" fill="none"/>
<text transform="translate(1737.03,344.48) scale(1,1.04)" textLength="120.82" lengthAdjust="spacing" stroke="#000" stroke-width="0.4">drip Telangana</text>
<path d="M1696.68 360.71H1725.58" stroke="#6b006b" stroke-width="1.95" stroke-dasharray="8.03 3.47" fill="none"/>
<text transform="translate(1737.03,365.61) scale(1,1.04)" textLength="163.97" lengthAdjust="spacing" stroke="#000" stroke-width="0.4">drip Andhra Pradesh</text>
<path d="M1696.68 381.84H1725.58" stroke="#8b0000" stroke-width="1.95" stroke-dasharray="8.03 3.47" fill="none"/>
<text transform="translate(1737.03,386.74) scale(1,1.04)" textLength="138.08" lengthAdjust="spacing" stroke="#000" stroke-width="0.4">drip Maharashtra</text>
</g>
</g>
<g id="pf">
<g clip-path="url(#cf)" fill="none" stroke-width="1.95" stroke-linejoin="round">
<polyline points="46.99,642 79.02,626.2 111.04,633.7 143.07,629.2 175.1,609.5 207.13,636.8 239.15,655.6 271.18,659 303.21,663.9 335.24,678.1 367.26,689.4 399.29,687.6" stroke="#ff0000" stroke-linecap="square"/>
<polyline points="46.99,722.1 79.02,719.4 111.04,719.2 143.07,728.2 175.1,710.8 207.13,737.5 239.15,750.8 271.18,746.9 303.21,765.7 335.24,782.2 367.26,788 399.29,786.9" stroke="#ff8c00" stroke-linecap="square"/>
<polyline points="46.99,607.6 79.02,605.8 111.04,607.1 143.07,620.8 175.1,594.1 207.13,626.2 239.15,638.2 271.18,637.5 303.21,652.6 335.24,672 367.26,685.6 399.29,678.1" stroke="#6b006b" stroke-linecap="square"/>
<polyline points="46.99,457.9 79.02,465.8 111.04,484.3 143.07,492.5 175.1,487.9 207.13,500.5 239.15,530.2 271.18,538 303.21,558.4 335.24,578.5 367.26,579.3 399.29,582.4" stroke="#8b0000" stroke-linecap="square"/>
<polyline points="46.99,642 79.02,626.2 111.04,633.7 143.07,629.2 175.1,609.5 207.13,636.8 239.15,655.9 271.18,659.4 303.21,664.4 335.24,678.7 367.26,690.1 399.29,688.2" stroke="#ff0000" stroke-dasharray="8.03 3.47"/>
<polyline points="46.99,722.1 79.02,719.4 111.04,719.2 143.07,728.2 175.1,710.8 207.13,737.5 239.15,750.8 271.18,746.9 303.21,765.7 335.24,782.2 367.26,788 399.29,786.9" stroke="#ff8c00" stroke-dasharray="8.03 3.47"/>
<polyline points="46.99,607.6 79.02,605.8 111.04,607.1 143.07,620.8 175.1,594.1 207.13,626.2 239.15,638.2 271.18,637.5 303.21,652.6 335.24,672 367.26,685.6 399.29,678.1" stroke="#6b006b" stroke-dasharray="8.03 3.47"/>
<polyline points="46.99,455.2 79.02,460.2 111.04,473.3 143.07,475.3 175.1,464.3 207.13,472.6 239.15,495.2 271.18,498.7 303.21,515.9 335.24,527.9 367.26,525.3 399.29,523" stroke="#8b0000" stroke-dasharray="8.03 3.47"/>
</g>
<path d="M79.02 805.35v4.95M143.07 805.35v4.95M207.13 805.35v4.95M271.18 805.35v4.95M335.24 805.35v4.95M399.29 805.35v4.95M46.99 442.6h-4.95M46.99 491.1h-4.95M46.99 539.6h-4.95M46.99 588.1h-4.95M46.99 636.6h-4.95M46.99 685.1h-4.95M46.99 733.6h-4.95M46.99 782.1h-4.95" stroke="#000" stroke-width="1.5" fill="none"/>
<rect x="46.99" y="439.15" width="352.3" height="366.2" fill="none" stroke="#000" stroke-width="1.5"/>
<g font-family='"Liberation Mono", monospace' font-size="11.6" fill="#000">
<text transform="translate(36.89,446.9) scale(1,1.05)" text-anchor="end" stroke="#000" stroke-width="0.28">34</text>
<text transform="translate(36.89,495.4) scale(1,1.05)" text-anchor="end" stroke="#000" stroke-width="0.28">36</text>
<text transform="translate(36.89,543.9) scale(1,1.05)" text-anchor="end" stroke="#000" stroke-width="0.28">38</text>
<text transform="translate(36.89,592.4) scale(1,1.05)" text-anchor="end" stroke="#000" stroke-width="0.28">40</text>
<text transform="translate(36.89,640.9) scale(1,1.05)" text-anchor="end" stroke="#000" stroke-width="0.28">42</text>
<text transform="translate(36.89,689.4) scale(1,1.05)" text-anchor="end" stroke="#000" stroke-width="0.28">44</text>
<text transform="translate(36.89,737.9) scale(1,1.05)" text-anchor="end" stroke="#000" stroke-width="0.28">46</text>
<text transform="translate(36.89,786.4) scale(1,1.05)" text-anchor="end" stroke="#000" stroke-width="0.28">48</text>
<text transform="translate(79.02,824.4) scale(1,1.05)" text-anchor="middle" stroke="#000" stroke-width="0.28">2008</text>
<text transform="translate(143.07,824.4) scale(1,1.05)" text-anchor="middle" stroke="#000" stroke-width="0.28">2010</text>
<text transform="translate(207.13,824.4) scale(1,1.05)" text-anchor="middle" stroke="#000" stroke-width="0.28">2012</text>
<text transform="translate(271.18,824.4) scale(1,1.05)" text-anchor="middle" stroke="#000" stroke-width="0.28">2014</text>
<text transform="translate(335.24,824.4) scale(1,1.05)" text-anchor="middle" stroke="#000" stroke-width="0.28">2016</text>
<text transform="translate(399.29,824.4) scale(1,1.05)" text-anchor="middle" stroke="#000" stroke-width="0.28">2018</text>
</g>
<g font-family='"Liberation Mono", monospace' font-size="13.0" fill="#000">
<text transform="translate(115.6,431) scale(1,1.07)" textLength="23.4" lengthAdjust="spacing" stroke="#000" stroke-width="0.33">(f)</text>
<text transform="translate(141.2,431) scale(1,1.07)" textLength="179.4" lengthAdjust="spacing" stroke="#000" stroke-width="0.33">- Groundwater depth (m)</text>
</g>
<rect x="142.07" y="446.37" width="250" height="173.1" rx="2.9" fill="#fff" fill-opacity="0.8" stroke="#ccc" stroke-opacity="0.8" stroke-width="1.44"/>
<g font-family='"Liberation Mono", monospace' font-size="14.44" fill="#000">
<path d="M147.85 458.12H176.75" stroke="#ff0000" stroke-width="1.95" stroke-linecap="square" fill="none"/>
<text transform="translate(188.2,463.02) scale(1,1.04)" textLength="155.34" lengthAdjust="spacing" stroke="#000" stroke-width="0.4">baseline Karnataka</text>
<path d="M147.85 479.25H176.75" stroke="#ff8c00" stroke-width="1.95" stroke-linecap="square" fill="none"/>
<text transform="translate(188.2,484.15) scale(1,1.04)" textLength="155.34" lengthAdjust="spacing" stroke="#000" stroke-width="0.4">baseline Telangana</text>
<path d="M147.85 500.38H176.75" stroke="#6b006b" stroke-width="1.95" stroke-linecap="square" fill="none"/>
<text transform="translate(188.2,505.28) scale(1,1.04)" textLength="198.49" lengthAdjust="spacing" stroke="#000" stroke-width="0.4">baseline Andhra Pradesh</text>
<path d="M147.85 521.51H176.75" stroke="#8b0000" stroke-width="1.95" stroke-linecap="square" fill="none"/>
<text transform="translate(188.2,526.41) scale(1,1.04)" textLength="172.6" lengthAdjust="spacing" stroke="#000" stroke-width="0.4">baseline Maharashtra</text>
<path d="M147.85 542.64H176.75" stroke="#ff0000" stroke-width="1.95" stroke-dasharray="8.03 3.47" fill="none"/>
<text transform="translate(188.2,547.54) scale(1,1.04)" textLength="120.82" lengthAdjust="spacing" stroke="#000" stroke-width="0.4">drip Karnataka</text>
<path d="M147.85 563.77H176.75" stroke="#ff8c00" stroke-width="1.95" stroke-dasharray="8.03 3.47" fill="none"/>
<text transform="translate(188.2,568.67) scale(1,1.04)" textLength="120.82" lengthAdjust="spacing" stroke="#000" stroke-width="0.4">drip Telangana</text>
<path d="M147.85 584.9H176.75" stroke="#6b006b" stroke-width="1.95" stroke-dasharray="8.03 3.47" fill="none"/>
<text transform="translate(188.2,589.8) scale(1,1.04)" textLength="163.97" lengthAdjust="spacing" stroke="#000" stroke-width="0.4">drip Andhra Pradesh</text>
<path d="M147.85 606.03H176.75" stroke="#8b0000" stroke-width="1.95" stroke-dasharray="8.03 3.47" fill="none"/>
<text transform="translate(188.2,610.93) scale(1,1.04)" textLength="138.08" lengthAdjust="spacing" stroke="#000" stroke-width="0.4">drip Maharashtra</text>
</g>
</g>
<g id="pg">
<g clip-path="url(#cg)" fill="none" stroke-width="1.95" stroke-linejoin="round">
<polyline points="456.11,455.7 488.14,522.2 520.16,539.2 552.19,457.9 584.22,477.8 616.25,621 648.27,573 680.3,554.9 712.33,650.9 744.36,626 776.38,678 808.41,789.7" stroke="#0857a3" stroke-linecap="square"/>
<polyline points="456.11,455.7 488.14,521.8 520.16,536.9 552.19,455.2 584.22,474.9 616.25,618.1 648.27,568 680.3,548.6 712.33,641.9 744.36,618.5 776.38,671.2 808.41,785" stroke="#0857a3" stroke-dasharray="8.03 3.47"/>
</g>
<path d="M488.14 805.35v4.95M552.19 805.35v4.95M616.25 805.35v4.95M680.3 805.35v4.95M744.36 805.35v4.95M808.41 805.35v4.95M456.11 804.7h-4.95M456.11 763.62h-4.95M456.11 722.54h-4.95M456.11 681.46h-4.95M456.11 640.38h-4.95M456.11 599.3h-4.95M456.11 558.22h-4.95M456.11 517.14h-4.95M456.11 476.06h-4.95" stroke="#000" stroke-width="1.5" fill="none"/>
<rect x="456.11" y="439.15" width="352.3" height="366.2" fill="none" stroke="#000" stroke-width="1.5"/>
<g font-family='"Liberation Mono", monospace' font-size="11.6" fill="#000">
<text transform="translate(446.01,809) scale(1,1.05)" text-anchor="end" stroke="#000" stroke-width="0.28">10</text>
<text transform="translate(446.01,767.92) scale(1,1.05)" text-anchor="end" stroke="#000" stroke-width="0.28">12</text>
<text transform="translate(446.01,726.84) scale(1,1.05)" text-anchor="end" stroke="#000" stroke-width="0.28">14</text>
<text transform="translate(446.01,685.76) scale(1,1.05)" text-anchor="end" stroke="#000" stroke-width="0.28">16</text>
<text transform="translate(446.01,644.68) scale(1,1.05)" text-anchor="end" stroke="#000" stroke-width="0.28">18</text>
<text transform="translate(446.01,603.6) scale(1,1.05)" text-anchor="end" stroke="#000" stroke-width="0.28">20</text>
<text transform="translate(446.01,562.52) scale(1,1.05)" text-anchor="end" stroke="#000" stroke-width="0.28">22</text>
<text transform="translate(446.01,521.44) scale(1,1.05)" text-anchor="end" stroke="#000" stroke-width="0.28">24</text>
<text transform="translate(446.01,480.36) scale(1,1.05)" text-anchor="end" stroke="#000" stroke-width="0.28">26</text>
<text transform="translate(488.14,824.4) scale(1,1.05)" text-anchor="middle" stroke="#000" stroke-width="0.28">2008</text>
<text transform="translate(552.19,824.4) scale(1,1.05)" text-anchor="middle" stroke="#000" stroke-width="0.28">2010</text>
<text transform="translate(616.25,824.4) scale(1,1.05)" text-anchor="middle" stroke="#000" stroke-width="0.28">2012</text>
<text transform="translate(680.3,824.4) scale(1,1.05)" text-anchor="middle" stroke="#000" stroke-width="0.28">2014</text>
<text transform="translate(744.36,824.4) scale(1,1.05)" text-anchor="middle" stroke="#000" stroke-width="0.28">2016</text>
<text transform="translate(808.41,824.4) scale(1,1.05)" text-anchor="middle" stroke="#000" stroke-width="0.28">2018</text>
</g>
<g font-family='"Liberation Mono", monospace' font-size="13.0" fill="#000">
<text transform="translate(470.2,431) scale(1,1.07)" textLength="23.4" lengthAdjust="spacing" stroke="#000" stroke-width="0.33">(g)</text>
<text transform="translate(495.8,431) scale(1,1.07)" textLength="288.6" lengthAdjust="spacing" stroke="#000" stroke-width="0.33">- Mean reservoir storage (billion m3)</text>
</g>
<rect x="680.69" y="446.37" width="120.5" height="46.4" rx="2.9" fill="#fff" fill-opacity="0.8" stroke="#ccc" stroke-opacity="0.8" stroke-width="1.44"/>
<g font-family='"Liberation Mono", monospace' font-size="14.44" fill="#000">
<path d="M686.47 458.12H715.37" stroke="#0857a3" stroke-width="1.95" stroke-linecap="square" fill="none"/>
<text transform="translate(726.82,463.02) scale(1,1.04)" textLength="69.04" lengthAdjust="spacing" stroke="#000" stroke-width="0.4">baseline</text>
<path d="M686.47 479.25H715.37" stroke="#0857a3" stroke-width="1.95" stroke-dasharray="8.03 3.47" fill="none"/>
<text transform="translate(726.82,484.15) scale(1,1.04)" textLength="34.52" lengthAdjust="spacing" stroke="#000" stroke-width="0.4">drip</text>
</g>
</g>
<g id="ph">
<g clip-path="url(#ch)" fill="none" stroke-width="1.95" stroke-linejoin="round">
<polyline points="865.24,503.1 897.27,513.2 929.29,510.3 961.32,523.4 993.35,587.7 1025.38,651.4 1057.4,624.7 1089.43,649.1 1121.46,622.5 1153.49,654.7 1185.51,679.6 1217.54,667.2" stroke="#ff0000" stroke-linecap="square"/>
<polyline points="865.24,575.8 897.27,625.4 929.29,600.6 961.32,575.3 993.35,644.6 1025.38,677.3 1057.4,643.5 1089.43,675 1121.46,690.8 1153.49,703.2 1185.51,692 1217.54,681.8" stroke="#ff8c00" stroke-linecap="square"/>
<polyline points="865.24,734.8 897.27,731.8 929.29,750.3 961.32,737.1 993.35,763 1025.38,788.3 1057.4,776.3 1089.43,786.5 1121.46,787.4 1153.49,778.9 1185.51,788.3 1217.54,775.9" stroke="#6b006b" stroke-linecap="square"/>
<polyline points="865.24,506 897.27,492.5 929.29,466.3 961.32,476 993.35,534 1025.38,610.8 1057.4,625.4 1089.43,658.8 1121.46,655.4 1153.49,684.7 1185.51,684.7 1217.54,682.5" stroke="#8b0000" stroke-linecap="square"/>
<polyline points="865.24,503.1 897.27,513.2 929.29,510.3 961.32,523.4 993.35,587.7 1025.38,651.4 1057.4,624.7 1089.43,649.1 1121.46,622.5 1153.49,654.7 1185.51,679.6 1217.54,667.2" stroke="#ff0000" stroke-dasharray="8.03 3.47"/>
<polyline points="865.24,575.8 897.27,625.4 929.29,600.6 961.32,575.3 993.35,644.6 1025.38,677.3 1057.4,643.5 1089.43,675 1121.46,690.8 1153.49,703.2 1185.51,692 1217.54,681.8" stroke="#ff8c00" stroke-dasharray="8.03 3.47"/>
<polyline points="865.24,734.8 897.27,731.8 929.29,750.3 961.32,737.1 993.35,763 1025.38,788.3 1057.4,776.3 1089.43,786.5 1121.46,787.4 1153.49,778.9 1185.51,788.3 1217.54,775.9" stroke="#6b006b" stroke-dasharray="8.03 3.47"/>
<polyline points="865.24,501.9 897.27,486.1 929.29,455.2 961.32,463.6 993.35,520.3 1025.38,597.2 1057.4,614.1 1089.43,645 1121.46,643.5 1153.49,672.8 1185.51,672.1 1217.54,665.6" stroke="#8b0000" stroke-dasharray="8.03 3.47"/>
</g>
<path d="M897.27 805.35v4.95M961.32 805.35v4.95M1025.38 805.35v4.95M1089.43 805.35v4.95M1153.49 805.35v4.95M1217.54 805.35v4.95M865.24 792.6h-4.95M865.24 732.58h-4.95M865.24 672.56h-4.95M865.24 612.54h-4.95M865.24 552.52h-4.95M865.24 492.5h-4.95" stroke="#000" stroke-width="1.5" fill="none"/>
<rect x="865.24" y="439.15" width="352.3" height="366.2" fill="none" stroke="#000" stroke-width="1.5"/>
<g font-family='"Liberation Mono", monospace' font-size="11.6" fill="#000">
<text transform="translate(855.14,796.9) scale(1,1.05)" text-anchor="end" stroke="#000" stroke-width="0.28">100</text>
<text transform="translate(855.14,736.88) scale(1,1.05)" text-anchor="end" stroke="#000" stroke-width="0.28">200</text>
<text transform="translate(855.14,676.86) scale(1,1.05)" text-anchor="end" stroke="#000" stroke-width="0.28">300</text>
<text transform="translate(855.14,616.84) scale(1,1.05)" text-anchor="end" stroke="#000" stroke-width="0.28">400</text>
<text transform="translate(855.14,556.82) scale(1,1.05)" text-anchor="end" stroke="#000" stroke-width="0.28">500</text>
<text transform="translate(855.14,496.8) scale(1,1.05)" text-anchor="end" stroke="#000" stroke-width="0.28">600</text>
<text transform="translate(897.27,824.4) scale(1,1.05)" text-anchor="middle" stroke="#000" stroke-width="0.28">2008</text>
<text transform="translate(961.32,824.4) scale(1,1.05)" text-anchor="middle" stroke="#000" stroke-width="0.28">2010</text>
<text transform="translate(1025.38,824.4) scale(1,1.05)" text-anchor="middle" stroke="#000" stroke-width="0.28">2012</text>
<text transform="translate(1089.43,824.4) scale(1,1.05)" text-anchor="middle" stroke="#000" stroke-width="0.28">2014</text>
<text transform="translate(1153.49,824.4) scale(1,1.05)" text-anchor="middle" stroke="#000" stroke-width="0.28">2016</text>
<text transform="translate(1217.54,824.4) scale(1,1.05)" text-anchor="middle" stroke="#000" stroke-width="0.28">2018</text>
</g>
<g font-family='"Liberation Mono", monospace' font-size="13.0" fill="#000">
<text transform="translate(874.7,431) scale(1,1.07)" textLength="23.4" lengthAdjust="spacing" stroke="#000" stroke-width="0.33">(h)</text>
<text transform="translate(901.2,431) scale(1,1.07)" textLength="295.11" lengthAdjust="spacing" stroke="#000" stroke-width="0.33">- Profit farmers (billion 2007 rupees)</text>
</g>
<rect x="960.32" y="446.37" width="250" height="173.1" rx="2.9" fill="#fff" fill-opacity="0.8" stroke="#ccc" stroke-opacity="0.8" stroke-width="1.44"/>
<g font-family='"Liberation Mono", monospace' font-size="14.44" fill="#000">
<path d="M966.1 458.12H995" stroke="#ff0000" stroke-width="1.95" stroke-linecap="square" fill="none"/>
<text transform="translate(1006.45,463.02) scale(1,1.04)" textLength="155.34" lengthAdjust="spacing" stroke="#000" stroke-width="0.4">baseline Karnataka</text>
<path d="M966.1 479.25H995" stroke="#ff8c00" stroke-width="1.95" stroke-linecap="square" fill="none"/>
<text transform="translate(1006.45,484.15) scale(1,1.04)" textLength="155.34" lengthAdjust="spacing" stroke="#000" stroke-width="0.4">baseline Telangana</text>
<path d="M966.1 500.38H995" stroke="#6b006b" stroke-width="1.95" stroke-linecap="square" fill="none"/>
<text transform="translate(1006.45,505.28) scale(1,1.04)" textLength="198.49" lengthAdjust="spacing" stroke="#000" stroke-width="0.4">baseline Andhra Pradesh</text>
<path d="M966.1 521.51H995" stroke="#8b0000" stroke-width="1.95" stroke-linecap="square" fill="none"/>
<text transform="translate(1006.45,526.41) scale(1,1.04)" textLength="172.6" lengthAdjust="spacing" stroke="#000" stroke-width="0.4">baseline Maharashtra</text>
<path d="M966.1 542.64H995" stroke="#ff0000" stroke-width="1.95" stroke-dasharray="8.03 3.47" fill="none"/>
<text transform="translate(1006.45,547.54) scale(1,1.04)" textLength="120.82" lengthAdjust="spacing" stroke="#000" stroke-width="0.4">drip Karnataka</text>
<path d="M966.1 563.77H995" stroke="#ff8c00" stroke-width="1.95" stroke-dasharray="8.03 3.47" fill="none"/>
<text transform="translate(1006.45,568.67) scale(1,1.04)" textLength="120.82" lengthAdjust="spacing" stroke="#000" stroke-width="0.4">drip Telangana</text>
<path d="M966.1 584.9H995" stroke="#6b006b" stroke-width="1.95" stroke-dasharray="8.03 3.47" fill="none"/>
<text transform="translate(1006.45,589.8) scale(1,1.04)" textLength="163.97" lengthAdjust="spacing" stroke="#000" stroke-width="0.4">drip Andhra Pradesh</text>
<path d="M966.1 606.03H995" stroke="#8b0000" stroke-width="1.95" stroke-dasharray="8.03 3.47" fill="none"/>
<text transform="translate(1006.45,610.93) scale(1,1.04)" textLength="138.08" lengthAdjust="spacing" stroke="#000" stroke-width="0.4">drip Maharashtra</text>
</g>
</g>
<g id="pi">
<g clip-path="url(#ci)" fill="none" stroke-width="1.95" stroke-linejoin="round">
<polyline points="1274.45,787.9 1306.48,765.4 1338.5,747.8 1370.53,736.9 1402.56,720.7 1434.59,703.8 1466.61,697.5 1498.64,694.1 1530.67,690.9 1562.7,688.7 1594.72,687.3 1626.75,686" stroke="#ffb3bf" stroke-linecap="square"/>
<polyline points="1274.45,755.7 1306.48,633.4 1338.5,576.4 1370.53,554.9 1402.56,534.6 1434.59,503.7 1466.61,490 1498.64,482.8 1530.67,474.9 1562.7,468.5 1594.72,464.3 1626.75,459.5" stroke="#626262" stroke-linecap="square"/>
<polyline points="1274.45,787.9 1306.48,765.2 1338.5,747.4 1370.53,736 1402.56,719.1 1434.59,701.5 1466.61,695.2 1498.64,692.5 1530.67,689.1 1562.7,686.6 1594.72,685.3 1626.75,683.9" stroke="#ffb3bf" stroke-dasharray="8.03 3.47"/>
<polyline points="1274.45,755.7 1306.48,633.2 1338.5,575.5 1370.53,553.4 1402.56,531.9 1434.59,500.4 1466.61,486.1 1498.64,479.8 1530.67,470.8 1562.7,464.3 1594.72,460.2 1626.75,455.2" stroke="#626262" stroke-dasharray="8.03 3.47"/>
</g>
<path d="M1306.48 805.35v4.95M1370.53 805.35v4.95M1434.59 805.35v4.95M1498.64 805.35v4.95M1562.7 805.35v4.95M1626.75 805.35v4.95M1274.45 777.1h-4.95M1274.45 727.48h-4.95M1274.45 677.85h-4.95M1274.45 628.23h-4.95M1274.45 578.6h-4.95M1274.45 528.98h-4.95M1274.45 479.35h-4.95" stroke="#000" stroke-width="1.5" fill="none"/>
<rect x="1274.45" y="439.15" width="352.3" height="366.2" fill="none" stroke="#000" stroke-width="1.5"/>
<g font-family='"Liberation Mono", monospace' font-size="11.6" fill="#000">
<text transform="translate(1264.35,781.4) scale(1,1.05)" text-anchor="end" stroke="#000" stroke-width="0.28">2.75</text>
<text transform="translate(1264.35,731.77) scale(1,1.05)" text-anchor="end" stroke="#000" stroke-width="0.28">3.00</text>
<text transform="translate(1264.35,682.15) scale(1,1.05)" text-anchor="end" stroke="#000" stroke-width="0.28">3.25</text>
<text transform="translate(1264.35,632.52) scale(1,1.05)" text-anchor="end" stroke="#000" stroke-width="0.28">3.50</text>
<text transform="translate(1264.35,582.9) scale(1,1.05)" text-anchor="end" stroke="#000" stroke-width="0.28">3.75</text>
<text transform="translate(1264.35,533.27) scale(1,1.05)" text-anchor="end" stroke="#000" stroke-width="0.28">4.00</text>
<text transform="translate(1264.35,483.65) scale(1,1.05)" text-anchor="end" stroke="#000" stroke-width="0.28">4.25</text>
<text transform="translate(1306.48,824.4) scale(1,1.05)" text-anchor="middle" stroke="#000" stroke-width="0.28">2008</text>
<text transform="translate(1370.53,824.4) scale(1,1.05)" text-anchor="middle" stroke="#000" stroke-width="0.28">2010</text>
<text transform="translate(1434.59,824.4) scale(1,1.05)" text-anchor="middle" stroke="#000" stroke-width="0.28">2012</text>
<text transform="translate(1498.64,824.4) scale(1,1.05)" text-anchor="middle" stroke="#000" stroke-width="0.28">2014</text>
<text transform="translate(1562.7,824.4) scale(1,1.05)" text-anchor="middle" stroke="#000" stroke-width="0.28">2016</text>
<text transform="translate(1626.75,824.4) scale(1,1.05)" text-anchor="middle" stroke="#000" stroke-width="0.28">2018</text>
</g>
<g font-family='"Liberation Mono", monospace' font-size="13.0" fill="#000">
<text transform="translate(1293.3,431) scale(1,1.07)" textLength="23.4" lengthAdjust="spacing" stroke="#000" stroke-width="0.33">(i)</text>
<text transform="translate(1318.3,431) scale(1,1.07)" textLength="249.6" lengthAdjust="spacing" stroke="#000" stroke-width="0.33">- Well irrigating farmers (×1000</text>
<text transform="translate(1569.4,431) scale(1,1.07)" textLength="31.2" lengthAdjust="spacing" stroke="#000" stroke-width="0.33">000)</text>
</g>
<rect x="1447.53" y="709.53" width="172" height="88.6" rx="2.9" fill="#fff" fill-opacity="0.8" stroke="#ccc" stroke-opacity="0.8" stroke-width="1.44"/>
<g font-family='"Liberation Mono", monospace' font-size="14.44" fill="#000">
<path d="M1453.31 721.28H1482.21" stroke="#ffb3bf" stroke-width="1.95" stroke-linecap="square" fill="none"/>
<text transform="translate(1493.66,726.18) scale(1,1.04)" textLength="120.82" lengthAdjust="spacing" stroke="#000" stroke-width="0.4">baseline small</text>
<path d="M1453.31 742.41H1482.21" stroke="#626262" stroke-width="1.95" stroke-linecap="square" fill="none"/>
<text transform="translate(1493.66,747.31) scale(1,1.04)" textLength="120.82" lengthAdjust="spacing" stroke="#000" stroke-width="0.4">baseline large</text>
<path d="M1453.31 763.54H1482.21" stroke="#ffb3bf" stroke-width="1.95" stroke-dasharray="8.03 3.47" fill="none"/>
<text transform="translate(1493.66,768.44) scale(1,1.04)" textLength="86.3" lengthAdjust="spacing" stroke="#000" stroke-width="0.4">drip small</text>
<path d="M1453.31 784.67H1482.21" stroke="#626262" stroke-width="1.95" stroke-dasharray="8.03 3.47" fill="none"/>
<text transform="translate(1493.66,789.57) scale(1,1.04)" textLength="86.3" lengthAdjust="spacing" stroke="#000" stroke-width="0.4">drip large</text>
</g>
</g>
<g id="pj">
<g clip-path="url(#cj)" fill="none" stroke-width="1.95" stroke-linejoin="round">
<polyline points="1683.68,758.6 1715.71,759.7 1747.73,756.3 1779.76,759.5 1811.79,769.6 1843.82,778.9 1875.84,777.8 1907.87,783.9 1939.9,784.5 1971.93,787.7 2003.95,786.8 2035.98,786.1" stroke="#ffb3bf" stroke-linecap="square"/>
<polyline points="1683.68,465.4 1715.71,480.5 1747.73,468.5 1779.76,459.7 1811.79,531 1843.82,600.1 1875.84,578.6 1907.87,610.2 1939.9,605 1971.93,626.6 2003.95,636.1 2035.98,621.4" stroke="#626262" stroke-linecap="square"/>
<polyline points="1683.68,758.4 1715.71,759.4 1747.73,756 1779.76,759.2 1811.79,769.2 1843.82,778.5 1875.84,777.4 1907.87,783.5 1939.9,784.1 1971.93,787.2 2003.95,786.3 2035.98,785.6" stroke="#ffb3bf" stroke-dasharray="8.03 3.47"/>
<polyline points="1683.68,463.6 1715.71,478.7 1747.73,464.7 1779.76,455.2 1811.79,527.5 1843.82,596.2 1875.84,574.8 1907.87,605.7 1939.9,600.7 1971.93,622.6 2003.95,632.3 2035.98,616.9" stroke="#626262" stroke-dasharray="8.03 3.47"/>
</g>
<path d="M1715.71 805.35v4.95M1779.76 805.35v4.95M1843.82 805.35v4.95M1907.87 805.35v4.95M1971.93 805.35v4.95M2035.98 805.35v4.95M1683.68 778.7h-4.95M1683.68 736.69h-4.95M1683.68 694.68h-4.95M1683.68 652.67h-4.95M1683.68 610.66h-4.95M1683.68 568.65h-4.95M1683.68 526.64h-4.95M1683.68 484.63h-4.95M1683.68 442.62h-4.95" stroke="#000" stroke-width="1.5" fill="none"/>
<rect x="1683.68" y="439.15" width="352.3" height="366.2" fill="none" stroke="#000" stroke-width="1.5"/>
<g font-family='"Liberation Mono", monospace' font-size="11.6" fill="#000">
<text transform="translate(1673.58,783) scale(1,1.05)" text-anchor="end" stroke="#000" stroke-width="0.28">500</text>
<text transform="translate(1673.58,740.99) scale(1,1.05)" text-anchor="end" stroke="#000" stroke-width="0.28">1000</text>
<text transform="translate(1673.58,698.98) scale(1,1.05)" text-anchor="end" stroke="#000" stroke-width="0.28">1500</text>
<text transform="translate(1673.58,656.97) scale(1,1.05)" text-anchor="end" stroke="#000" stroke-width="0.28">2000</text>
<text transform="translate(1673.58,614.96) scale(1,1.05)" text-anchor="end" stroke="#000" stroke-width="0.28">2500</text>
<text transform="translate(1673.58,572.95) scale(1,1.05)" text-anchor="end" stroke="#000" stroke-width="0.28">3000</text>
<text transform="translate(1673.58,530.94) scale(1,1.05)" text-anchor="end" stroke="#000" stroke-width="0.28">3500</text>
<text transform="translate(1673.58,488.93) scale(1,1.05)" text-anchor="end" stroke="#000" stroke-width="0.28">4000</text>
<text transform="translate(1673.58,446.92) scale(1,1.05)" text-anchor="end" stroke="#000" stroke-width="0.28">4500</text>
<text transform="translate(1715.71,824.4) scale(1,1.05)" text-anchor="middle" stroke="#000" stroke-width="0.28">2008</text>
<text transform="translate(1779.76,824.4) scale(1,1.05)" text-anchor="middle" stroke="#000" stroke-width="0.28">2010</text>
<text transform="translate(1843.82,824.4) scale(1,1.05)" text-anchor="middle" stroke="#000" stroke-width="0.28">2012</text>
<text transform="translate(1907.87,824.4) scale(1,1.05)" text-anchor="middle" stroke="#000" stroke-width="0.28">2014</text>
<text transform="translate(1971.93,824.4) scale(1,1.05)" text-anchor="middle" stroke="#000" stroke-width="0.28">2016</text>
<text transform="translate(2035.98,824.4) scale(1,1.05)" text-anchor="middle" stroke="#000" stroke-width="0.28">2018</text>
</g>
<g font-family='"Liberation Mono", monospace' font-size="13.0" fill="#000">
<text transform="translate(1694.9,431) scale(1,1.07)" textLength="23.4" lengthAdjust="spacing" stroke="#000" stroke-width="0.33">(j)</text>
<text transform="translate(1719.3,431) scale(1,1.07)" textLength="295.11" lengthAdjust="spacing" stroke="#000" stroke-width="0.33">- Profit farmers (billion 2007 rupees)</text>
</g>
<rect x="1856.76" y="446.37" width="172" height="88.6" rx="2.9" fill="#fff" fill-opacity="0.8" stroke="#ccc" stroke-opacity="0.8" stroke-width="1.44"/>
<g font-family='"Liberation Mono", monospace' font-size="14.44" fill="#000">
<path d="M1862.54 458.12H1891.44" stroke="#ffb3bf" stroke-width="1.95" stroke-linecap="square" fill="none"/>
<text transform="translate(1902.89,463.02) scale(1,1.04)" textLength="120.82" lengthAdjust="spacing" stroke="#000" stroke-width="0.4">baseline small</text>
<path d="M1862.54 479.25H1891.44" stroke="#626262" stroke-width="1.95" stroke-linecap="square" fill="none"/>
<text transform="translate(1902.89,484.15) scale(1,1.04)" textLength="120.82" lengthAdjust="spacing" stroke="#000" stroke-width="0.4">baseline large</text>
<path d="M1862.54 500.38H1891.44" stroke="#ffb3bf" stroke-width="1.95" stroke-dasharray="8.03 3.47" fill="none"/>
<text transform="translate(1902.89,505.28) scale(1,1.04)" textLength="86.3" lengthAdjust="spacing" stroke="#000" stroke-width="0.4">drip small</text>
<path d="M1862.54 521.51H1891.44" stroke="#626262" stroke-width="1.95" stroke-dasharray="8.03 3.47" fill="none"/>
<text transform="translate(1902.89,526.41) scale(1,1.04)" textLength="86.3" lengthAdjust="spacing" stroke="#000" stroke-width="0.4">drip large</text>
</g>
</g>
</svg>
</body></html>
